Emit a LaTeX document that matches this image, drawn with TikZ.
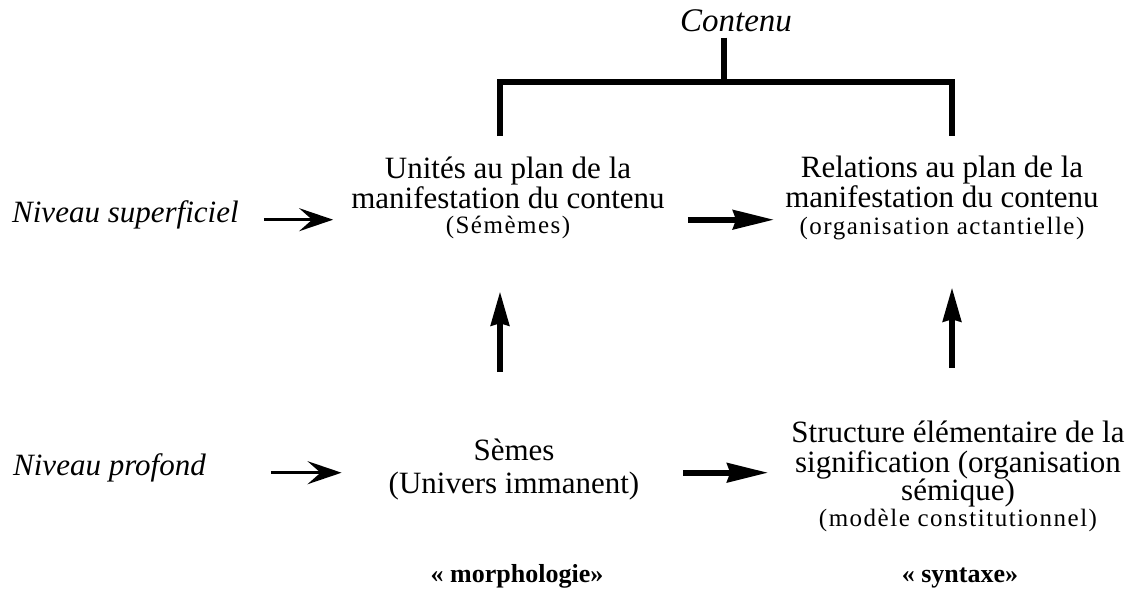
\documentclass[tikz,border=0pt]{standalone}
\usepackage{fontspec}
\setmainfont{Liberation Serif}
\usetikzlibrary{arrows.meta}
\newcommand{\smalltext}{\fontsize{25}{26}\selectfont\addfontfeature{LetterSpace=6}}
\begin{document}
\begin{tikzpicture}[x=1pt,y=-1pt,
  body/.style={align=center, inner sep=0pt, anchor=north, font=\fontsize{31}{30}\selectfont},
  level/.style={inner sep=0pt, anchor=base west, font=\fontsize{31}{30}\selectfont\itshape},
  heading/.style={inner sep=0pt, anchor=base, font=\fontsize{33}{30}\selectfont\itshape},
  tag/.style={inner sep=0pt, anchor=base, font=\fontsize{26}{28}\selectfont\bfseries},
  thinarrow/.style={line width=3pt, -{Stealth[length=34pt,width=23pt,inset=13pt]}},
  thickarrow/.style={line width=6pt, -{Stealth[length=41pt,width=19pt,inset=3pt]}},
  uparrow/.style={line width=6pt, -{Stealth[length=34pt,width=18pt,inset=2pt]}},
  bracket/.style={line width=5.5pt}]
\useasboundingbox (0,0) rectangle (1132,592);

% heading over the bracket
\node[heading] (con) at (736,31) {Contenu};

% upper level
\node[level] (sup) at (12,222) {Niveau superficiel};
\node[body] (u) at (508,157)
  {Unités au plan de la\\manifestation du contenu\\[-5pt]{\smalltext(Sémèmes)}};
\node[body] (r) at (942,156)
  {Relations au plan de la\\manifestation du contenu\\[-3pt]{\smalltext(organisation actantielle)}};

% lower level
\node[level] (prof) at (13,475) {Niveau profond};
\node[body] (s) at (514,439) {Sèmes\\[3pt](Univers immanent)};
\node[body] (st) at (958,421)
  {Structure élémentaire de la\\signification (organisation\\[-2pt]sémique)\\[-4pt]{\smalltext(modèle constitutionnel)}};

% column tags
\node[tag] (morph) at (517,582) {« morphologie»};
\node[tag] (synt) at (960,582) {« syntaxe»};

% bracket over the two upper boxes
\coordinate (lleg) at (500,136);
\coordinate (rleg) at (952,136);
\coordinate (bar) at (724,82);
\draw[bracket] (con.south -| bar) ++(0,6) -- (bar);
\draw[bracket] (lleg) -- (lleg |- bar) -- (rleg |- bar) -- (rleg);

% arrows between levels and boxes
\draw[thinarrow, shorten <=25pt, shorten >=18pt] (sup.mid east) -- (sup.mid east -| u.west);
\draw[thinarrow, shorten <=65pt, shorten >=47pt] (prof.mid east) -- (prof.mid east -| s.west);
\draw[thickarrow, shorten <=23pt, shorten >=11pt] (u.east |- sup.mid) -- (r.west |- sup.mid);
\draw[thickarrow, shorten <=44pt, shorten >=23pt] (s.east |- prof.mid) -- (st.west |- prof.mid);
\draw[uparrow, shorten <=67pt, shorten >=52pt] (s.north -| lleg) -- (u.south -| lleg);
\draw[uparrow, shorten <=53pt, shorten >=47pt] (st.north -| rleg) -- (r.south -| rleg);
\end{tikzpicture}
\end{document}
